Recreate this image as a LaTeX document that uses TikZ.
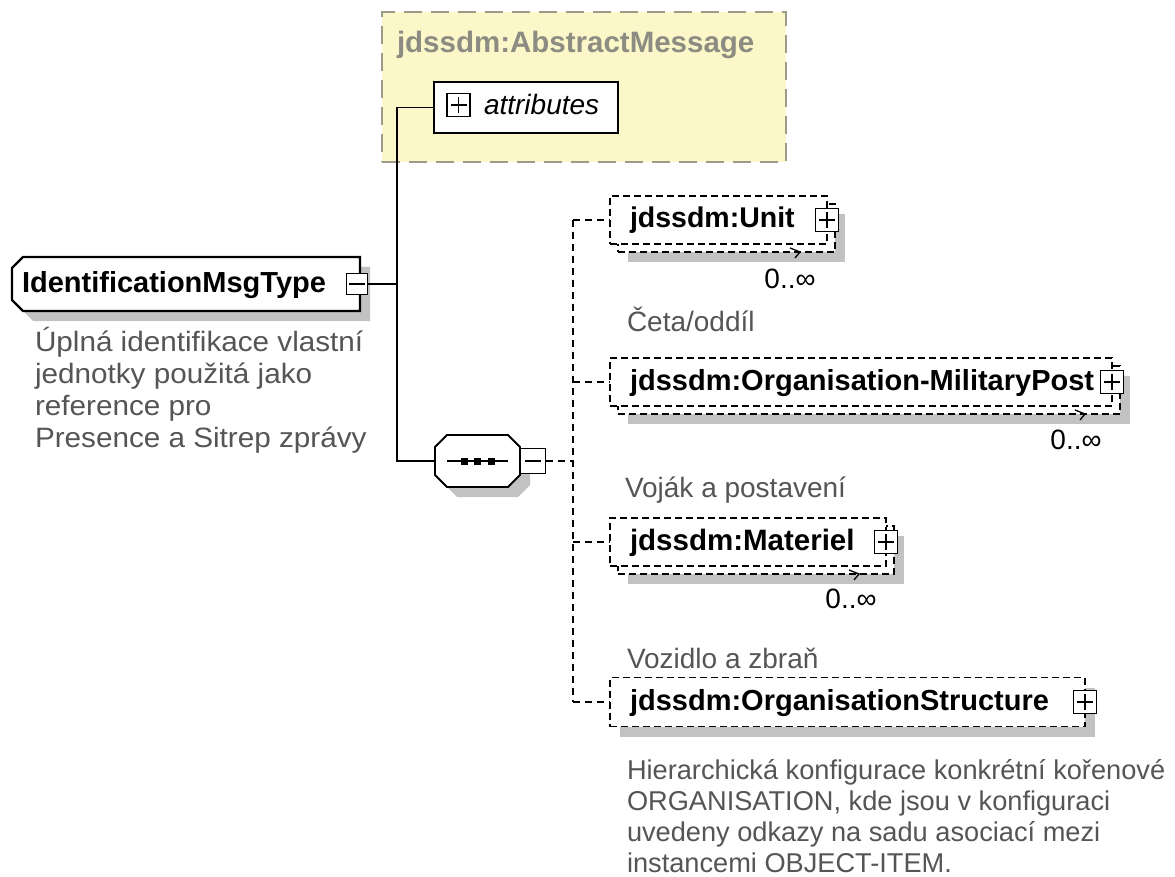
\documentclass[tikz,border=0pt]{standalone}
\usepackage{graphicx}
\usepackage{fontspec}
\setmainfont{Liberation Sans}
\definecolor{shadowgray}{HTML}{C2C2C2}
\definecolor{descgray}{HTML}{555555}
\definecolor{absfill}{HTML}{FBF7C8}
\definecolor{absline}{HTML}{9C9A88}
\definecolor{abstext}{HTML}{8C8C82}

\tikzset{
  every node/.style={inner sep=0pt,outer sep=0pt},
  titlefont/.style={font=\fontsize{29}{33}\selectfont\bfseries, anchor=base west},
  descfont/.style={font=\fontsize{28}{32}\selectfont, text=descgray, anchor=base west},
  orgdescfont/.style={font=\fontsize{27.2}{32}\selectfont, text=descgray, anchor=base west},
  occurs/.style={font=\fontsize{28}{32}\selectfont, anchor=base},
  conn/.style={line width=1.9pt},
  dconn/.style={line width=1.7pt, dash pattern=on 7pt off 5pt},
  optbox/.style={rectangle, draw, fill=white, line width=1.7pt, dash pattern=on 7pt off 4pt},
  shade/.style={rectangle, fill=shadowgray},
  expander/.style={rectangle, draw, fill=white, line width=1.8pt, minimum size=23pt},
  plusbox/.style={expander, path picture={
     \draw[line width=1.7pt]
       ([xshift=-8pt]path picture bounding box.center) -- ([xshift=8pt]path picture bounding box.center)
       ([yshift=-8pt]path picture bounding box.center) -- ([yshift=8pt]path picture bounding box.center);}},
  minusbox/.style={expander, path picture={
     \draw[line width=1.7pt]
       ([xshift=-8pt]path picture bounding box.center) -- ([xshift=8pt]path picture bounding box.center);}},
  % outline with the two left corners cut off
  lchamf/.style 2 args={insert path={
     ([xshift=#2]#1.north west) -- (#1.north east) -- (#1.south east) --
     ([xshift=#2]#1.south west) -- ([yshift=#2]#1.south west) --
     ([yshift=-#2]#1.north west) -- cycle}},
  % outline with all four corners cut off
  octpath/.style 2 args={insert path={
     ([xshift=#2]#1.north west) -- ([xshift=-#2]#1.north east) --
     ([yshift=-#2]#1.north east) -- ([yshift=#2]#1.south east) --
     ([xshift=-#2]#1.south east) -- ([xshift=#2]#1.south west) --
     ([yshift=#2]#1.south west) -- ([yshift=-#2]#1.north west) -- cycle}},
  occmark/.style={line width=1.3pt},
}
\newcommand\widetext[1]{\scalebox{1.06}[1]{#1}}

\begin{document}
\begin{tikzpicture}[x=1pt,y=-1pt]
\useasboundingbox[fill=white] (0,0) rectangle (1175,877);

% ---- inherited base type with its attribute group
\node[rectangle, draw=absline, fill=absfill, line width=1.6pt,
      dash pattern=on 18pt off 9pt, minimum width=404pt, minimum height=150pt] (abs) at (584,87) {};
\node[titlefont, text=abstext, font=\fontsize{29.5}{33}\selectfont\bfseries] (absname) at (397,53) {jdssdm:AbstractMessage};
\node[rectangle, draw, fill=white, line width=1.9pt, minimum width=184pt, minimum height=51pt] (attr) at (526,107.5) {};
\node[plusbox] (attrplus) at (458.5,105) {};
\node[font=\fontsize{28}{32}\selectfont\itshape, anchor=base west] (attrname) at (484,115) {attributes};

% ---- complex type
\node[minimum width=348pt, minimum height=54pt] (rootsh) at (196,294) {};
\fill[shadowgray, lchamf={rootsh}{11pt}];
\node[minimum width=348pt, minimum height=54pt] (root) at (186,284) {};
\draw[line width=2.2pt, fill=white, lchamf={root}{11pt}];
\node[titlefont] (rootname) at (22,293) {IdentificationMsgType};
\node[minusbox, minimum size=21pt] (rootminus) at (357,284) {};
\node[descfont] (rootdesc1) at (35,351) {\widetext{Úplná identifikace vlastní}};
\node[descfont] (rootdesc2) at (35,383) {\widetext{jednotky použitá jako}};
\node[descfont] (rootdesc3) at (35,415) {\widetext{reference pro}};
\node[descfont] (rootdesc4) at (35,447) {\widetext{Presence a Sitrep zprávy}};

% ---- sequence compositor
\node[minimum width=85pt, minimum height=52pt] (seqsh) at (487.5,471) {};
\fill[shadowgray, octpath={seqsh}{12pt}];
\node[minimum width=85pt, minimum height=52pt] (seq) at (477.5,461) {};
\draw[line width=1.9pt, fill=white, octpath={seq}{12pt}];
\draw[line width=1.7pt] ([xshift=12pt]seq.west) -- ([xshift=-12pt]seq.east);
\foreach \dx in {-13.5,0,13.5}
  \fill ([xshift=\dx pt]seq.center) +(-3.5,-3.5) rectangle +(3.5,3.5);
\node[minusbox, minimum size=25pt] (seqminus) at (533,461) {};

% ---- child elements
% Unit
\node[shade, minimum width=217pt, minimum height=48pt] (unitsh) at (736.5,238) {};
\node[optbox, minimum width=217pt, minimum height=48pt] (unitback) at (726.5,228) {};
\node[optbox, minimum width=217pt, minimum height=48pt] (unit) at (718.5,220) {};
\node[titlefont, font=\fontsize{28.5}{33}\selectfont\bfseries] (unitname) at (630,228) {jdssdm:Unit};
\node[plusbox] (unitplus) at (unit.east) {};
\draw[occmark] ([xshift=-45pt,yshift=4pt]unitback.south east) -- ([xshift=-35pt]unitback.south east)
   -- ([xshift=-40pt,yshift=-6pt]unitback.south east);
\node[occurs] (unitocc) at (790,288) {0..∞};
\node[descfont] (unitdesc) at (627,331) {Četa/oddíl};

% Organisation-MilitaryPost
\node[shade, minimum width=502pt, minimum height=48pt] (mpsh) at (879,400) {};
\node[optbox, minimum width=502pt, minimum height=48pt] (mpback) at (869,390) {};
\node[optbox, minimum width=502pt, minimum height=48pt] (mp) at (861,382) {};
\node[titlefont, font=\fontsize{29}{33}\selectfont\bfseries] (mpname) at (630,390) {jdssdm:Organisation-MilitaryPost};
\node[plusbox] (mpplus) at (mp.east) {};
\draw[occmark] ([xshift=-45pt,yshift=4pt]mpback.south east) -- ([xshift=-35pt]mpback.south east)
   -- ([xshift=-40pt,yshift=-6pt]mpback.south east);
\node[occurs] (mpocc) at (1076,449) {0..∞};
\node[descfont] (mpdesc) at (625,497) {Voják a postavení};

% Materiel
\node[shade, minimum width=276pt, minimum height=48pt] (matsh) at (766,560) {};
\node[optbox, minimum width=276pt, minimum height=48pt] (matback) at (756,550) {};
\node[optbox, minimum width=276pt, minimum height=48pt] (mat) at (748,542) {};
\node[titlefont, font=\fontsize{29.5}{33}\selectfont\bfseries] (matname) at (630,550) {jdssdm:Materiel};
\node[plusbox] (matplus) at (mat.east) {};
\draw[occmark] ([xshift=-45pt,yshift=4pt]matback.south east) -- ([xshift=-35pt]matback.south east)
   -- ([xshift=-40pt,yshift=-6pt]matback.south east);
\node[occurs] (matocc) at (851,608) {0..∞};
\node[descfont] (matdesc) at (627,668) {Vozidlo a zbraň};

% OrganisationStructure
\node[shade, minimum width=475pt, minimum height=49pt] (orgsh) at (857.5,712) {};
\node[optbox, minimum width=475pt, minimum height=49pt] (org) at (847.5,702) {};
\node[titlefont] (orgname) at (630,710) {jdssdm:OrganisationStructure};
\node[plusbox] (orgplus) at (org.east) {};
\node[orgdescfont] (orgdesc1) at (627,779) {Hierarchická konfigurace konkrétní kořenové};
\node[orgdescfont] (orgdesc2) at (627,810) {ORGANISATION, kde jsou v konfiguraci};
\node[orgdescfont] (orgdesc3) at (627,841) {uvedeny odkazy na sadu asociací mezi};
\node[orgdescfont] (orgdesc4) at (627,872) {instancemi OBJECT-ITEM.};

% ---- connectors
\coordinate (sbus) at (397,284);
\draw[conn] (rootminus.east) -- (sbus);
\draw[conn] (attr.west) -| (sbus);
\draw[conn] (sbus) |- (seq.west);

\coordinate (dbus) at (573,461);
\draw[dconn] (seqminus.east) -- (dbus);
\draw[dconn] (dbus |- unit.west) -- (dbus |- org.west);
\foreach \n in {unit,mp,mat,org}
  \draw[dconn] (dbus |- \n.west) -- (\n.west);
\end{tikzpicture}
\end{document}
